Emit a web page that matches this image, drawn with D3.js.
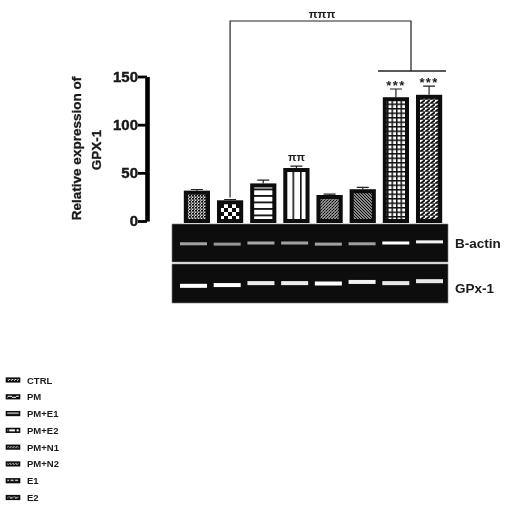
<!DOCTYPE html>
<html><head><meta charset="utf-8">
<script src="https://cdn.jsdelivr.net/npm/d3@7"></script>
<style>html,body{margin:0;padding:0;background:#fff}svg{display:block}text{font-family:"Liberation Sans",Arial,sans-serif;font-weight:700;fill:#1a1a1a}</style>
</head><body><svg id="c" width="512" height="514"></svg>
<script>
const categories=["CTRL","PM","PM+E1","PM+E2","PM+N1","PM+N2","E1","E2"];
const values=[31.5,21.5,39,55,27,33,128.5,131];
const errors=[1.2,0.8,3.5,2,1,2,8.5,9];
const yTicks=[0,50,100,150];
const sigLabels=["","","","ππ","","","***","***"];
const actinBrightness=[0.6,0.55,0.62,0.6,0.6,0.58,1,0.95];
const actinLevel=[0.52,0.53,0.5,0.5,0.53,0.52,0.5,0.47];
const gpxBrightness=[1,1,0.92,0.92,1,0.95,0.9,0.9];
const gpxLevel=[0.56,0.54,0.49,0.49,0.5,0.46,0.49,0.44];
const gelLabels=["B-actin","GPx-1"];
const titleLines=["Relative expression of","GPX-1"];

const svg=d3.select("#c");
const defs=svg.append("defs");
const f=defs.append("filter").attr("id","soft");
f.append("feGaussianBlur").attr("stdDeviation",0.4);
const gb=defs.append("filter").attr("id","bandBlur").attr("x","-20%").attr("y","-100%").attr("width","140%").attr("height","300%");
gb.append("feGaussianBlur").attr("stdDeviation",0.6);

function pat(id,w,h,draw){const p=defs.append("pattern").attr("id",id).attr("patternUnits","userSpaceOnUse").attr("width",w).attr("height",h);
 p.append("rect").attr("width",w).attr("height",h).attr("fill","#fff");draw(p);}
const k="#111";
pat("p0",3,3,p=>{p.append("rect").attr("width",2.2).attr("height",1.6).attr("fill",k);p.append("rect").attr("x",.8).attr("y",1.5).attr("width",2.2).attr("height",1.3).attr("fill","#333");});
pat("p1",8,8,p=>{p.append("rect").attr("width",4).attr("height",4).attr("fill",k);p.append("rect").attr("x",4).attr("y",4).attr("width",4).attr("height",4).attr("fill",k);});
pat("p2",10,6.5,p=>{p.append("rect").attr("width",10).attr("height",1.8).attr("fill",k);});
pat("p3",7.5,10,p=>{p.append("rect").attr("width",1.6).attr("height",10).attr("fill",k);});
pat("p4",3,3,p=>{p.append("path").attr("d","M0 3L3 0").attr("stroke",k).attr("stroke-width",1.4);p.append("path").attr("d","M0 0L3 3").attr("stroke","#666").attr("stroke-width",.7);});
pat("p5",3,3,p=>{p.append("path").attr("d","M0 0L3 3M-1 2L1 4M2 -1L4 1").attr("stroke",k).attr("stroke-width",1.4);});
pat("p6",4.5,4.5,p=>{p.append("rect").attr("width",1.5).attr("height",4.5).attr("fill",k);p.append("rect").attr("width",4.5).attr("height",1.5).attr("fill",k);});
pat("p7",5,4,p=>{p.append("path").attr("d","M0 4L5 0").attr("stroke",k).attr("stroke-width",1.9);p.append("rect").attr("y",3).attr("width",5).attr("height",.8).attr("fill","#444");});

const root=svg.append("g").attr("filter","url(#soft)");
const y=d3.scaleLinear().domain([0,150]).range([221,76.5]);
const x=d3.scaleBand().domain(categories).range([180.5,445.5]).paddingInner(0.21).paddingOuter(0.1);

// axis
const axis=root.append("g").attr("transform","translate(147,0)").call(d3.axisLeft(y).tickValues(yTicks).tickSize(9).tickPadding(0).tickSizeOuter(0));
axis.select(".domain").attr("stroke","#000").attr("stroke-width",4.6);
axis.selectAll(".tick line").attr("stroke","#000").attr("stroke-width",2.8);
axis.selectAll("text").style("font-size","15px").style("font-family",'"Liberation Sans"').style("font-weight",700).attr("fill","#111").attr("stroke","#111").attr("stroke-width",0.4);

// title
root.selectAll(".yt").data(titleLines).join("text").attr("class","yt")
 .attr("transform",(d,i)=>`translate(${i?101:80.5},${i?150:148.5}) rotate(-90)`)
 .attr("text-anchor","middle").style("font-size","13.5px").attr("stroke","#1a1a1a").attr("stroke-width",0.3).text(d=>d);

// bars
const bars=root.append("g").selectAll("g").data(categories).join("g");
const sw=4;
bars.append("path").attr("d",(d,i)=>{const c=x(d)+x.bandwidth()/2;return `M${c} ${y(values[i])}V${y(values[i]+errors[i])}M${c-6} ${y(values[i]+errors[i])}H${c+6}`;}).attr("stroke","#222").attr("stroke-width",1.2).attr("fill","none");
bars.append("rect").attr("x",d=>x(d)+sw/2).attr("width",x.bandwidth()-sw)
 .attr("y",(d,i)=>y(values[i])+sw/2).attr("height",(d,i)=>y(0)-y(values[i])-sw/2)
 .attr("fill",(d,i)=>`url(#p${i})`).attr("stroke","#0a0a0a").attr("stroke-width",sw);
bars.append("text").attr("x",d=>x(d)+x.bandwidth()/2).attr("y",(d,i)=>y(values[i]+errors[i])+(i>5?0.5:-5.5))
 .attr("text-anchor","middle").attr("letter-spacing",(d,i)=>i>5?"1.4px":null).style("font-size",(d,i)=>i>5?"13px":"11px").text((d,i)=>sigLabels[i]);

// bracket
const cx=i=>x(categories[i])+x.bandwidth()/2;
root.append("path").attr("d",`M${cx(1)} ${y(24.5)}V21H411V71`).attr("fill","none").attr("stroke","#222").attr("stroke-width",1.2);
root.append("path").attr("d",`M378 71H446`).attr("stroke","#222").attr("stroke-width",1.3);
root.append("text").attr("x",322).attr("y",18).attr("text-anchor","middle").style("font-size","11.5px").text("πππ");

// gels
const panels=[{top:224,bot:262,b:actinBrightness,l:actinLevel,h:3,name:gelLabels[0],ty:247.5,fs:"13.5px"},{top:264,bot:303,b:gpxBrightness,l:gpxLevel,h:4,name:gelLabels[1],ty:292.5,fs:"13.5px"}];
const lane=d3.scaleBand().domain(categories).range([180,443]).paddingInner(0.2).paddingOuter(0);
const gray=d3.scaleLinear().domain([0,1]).range(["#151515","#ffffff"]);
panels.forEach(P=>{
 root.append("rect").attr("x",172).attr("y",P.top).attr("width",276).attr("height",P.bot-P.top).attr("fill","#111").attr("stroke","#777").attr("stroke-width",0.6);
 const yy=d3.scaleLinear().domain([0,1]).range([P.top,P.bot]);
 root.append("g").attr("filter","url(#bandBlur)").selectAll("rect").data(categories).join("rect")
  .attr("x",d=>lane(d)).attr("width",lane.bandwidth())
  .attr("y",(d,i)=>yy(P.l[i])-P.h/2).attr("height",P.h).attr("fill",(d,i)=>gray(P.b[i]));
 root.append("text").attr("x",455).attr("y",P.ty).style("font-size",P.fs).text(P.name);
});

// legend
const leg=d3.scalePoint().domain(categories).range([380,497.5]);
const lg=root.append("g").selectAll("g").data(categories).join("g").attr("transform",d=>`translate(0,${leg(d)})`);
lg.append("rect").attr("x",6.5).attr("y",-1.8).attr("width",13).attr("height",3.6).attr("fill",(d,i)=>`url(#p${i})`).attr("stroke","#111").attr("stroke-width",1.6);
lg.append("text").attr("x",27).attr("y",3.5).style("font-size","9.5px").text(d=>d);
</script></body></html>
